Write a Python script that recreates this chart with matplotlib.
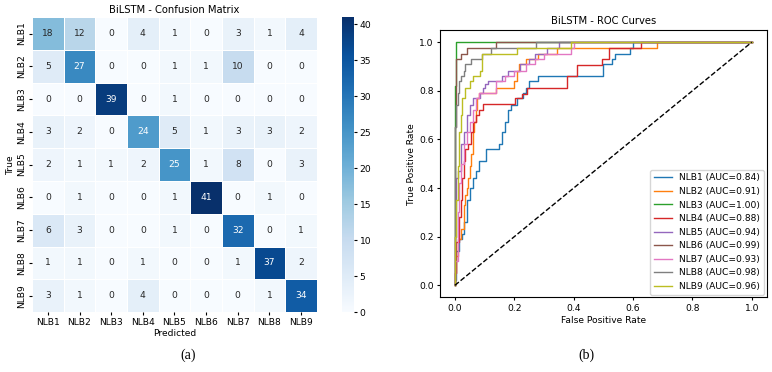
import matplotlib
matplotlib.use("Agg")
import matplotlib.pyplot as plt
import numpy as np
import seaborn as sns

classes = ["NLB1", "NLB2", "NLB3", "NLB4", "NLB5", "NLB6", "NLB7", "NLB8", "NLB9"]

conf = np.array([
    [18, 12, 0, 4, 1, 0, 3, 1, 4],
    [5, 27, 0, 0, 1, 1, 10, 0, 0],
    [0, 0, 39, 0, 1, 0, 0, 0, 0],
    [3, 2, 0, 24, 5, 1, 3, 3, 2],
    [2, 1, 1, 2, 25, 1, 8, 0, 3],
    [0, 1, 0, 0, 1, 41, 0, 1, 0],
    [6, 3, 0, 0, 1, 0, 32, 0, 1],
    [1, 1, 0, 1, 0, 0, 1, 37, 2],
    [3, 1, 0, 4, 0, 0, 0, 1, 34],
])

auc = [0.84, 0.91, 1.00, 0.88, 0.94, 0.99, 0.93, 0.98, 0.96]

# roc points (fpr, tpr)
roc_nlb1 = [(0, 0), (0, 0.02), (0.005, 0.02), (0.005, 0.14), (0.015, 0.14), (0.015, 0.19),
            (0.025, 0.19), (0.025, 0.21), (0.03, 0.21), (0.03, 0.26), (0.04, 0.26), (0.04, 0.35),
            (0.05, 0.35), (0.05, 0.40), (0.06, 0.40), (0.06, 0.44), (0.07, 0.44), (0.07, 0.47),
            (0.08, 0.47), (0.08, 0.51), (0.105, 0.51), (0.105, 0.56), (0.15, 0.56), (0.15, 0.58),
            (0.16, 0.58), (0.16, 0.63), (0.17, 0.63), (0.17, 0.67), (0.18, 0.67), (0.18, 0.72),
            (0.19, 0.72), (0.19, 0.74), (0.21, 0.74), (0.21, 0.77), (0.23, 0.77), (0.23, 0.79),
            (0.24, 0.79), (0.24, 0.81), (0.25, 0.81), (0.25, 0.84), (0.28, 0.84), (0.28, 0.86),
            (0.50, 0.86), (0.50, 0.91), (0.53, 0.91), (0.53, 0.93), (0.54, 0.93), (0.54, 0.95),
            (0.59, 0.95), (0.59, 0.975), (0.60, 0.975), (0.60, 1.0), (1, 1)]
roc_nlb2 = [(0, 0), (0, 0.05), (0.005, 0.05), (0.005, 0.12), (0.01, 0.12), (0.01, 0.19),
            (0.02, 0.19), (0.02, 0.23), (0.03, 0.23), (0.03, 0.33), (0.035, 0.33), (0.035, 0.37),
            (0.04, 0.37), (0.04, 0.40), (0.045, 0.40), (0.045, 0.44), (0.05, 0.44), (0.05, 0.49),
            (0.055, 0.49), (0.055, 0.54), (0.06, 0.54), (0.06, 0.63), (0.065, 0.63), (0.065, 0.67),
            (0.07, 0.67), (0.07, 0.72), (0.075, 0.72), (0.075, 0.77), (0.08, 0.77), (0.08, 0.79),
            (0.14, 0.79), (0.14, 0.81), (0.20, 0.81), (0.20, 0.84), (0.21, 0.84), (0.21, 0.88),
            (0.215, 0.88), (0.215, 0.91), (0.24, 0.91), (0.24, 0.93), (0.28, 0.93), (0.28, 0.95),
            (0.345, 0.95), (0.345, 0.975), (0.68, 0.975), (0.68, 1.0), (1, 1)]
roc_nlb3 = [(0, 0), (0, 0.82), (0.003, 0.82), (0.003, 0.95), (0.005, 0.95), (0.005, 1.0), (1, 1)]
roc_nlb4 = [(0, 0), (0, 0.05), (0.005, 0.05), (0.005, 0.18), (0.015, 0.18), (0.015, 0.28),
            (0.02, 0.28), (0.02, 0.35), (0.025, 0.35), (0.025, 0.44), (0.03, 0.44), (0.03, 0.51),
            (0.035, 0.51), (0.035, 0.56), (0.045, 0.56), (0.045, 0.58), (0.055, 0.58), (0.055, 0.63),
            (0.06, 0.63), (0.06, 0.67), (0.07, 0.67), (0.07, 0.70), (0.08, 0.70), (0.08, 0.72),
            (0.095, 0.72), (0.095, 0.745), (0.203, 0.745), (0.203, 0.77), (0.225, 0.77),
            (0.225, 0.786), (0.244, 0.786), (0.244, 0.81), (0.377, 0.81), (0.377, 0.86),
            (0.413, 0.86), (0.413, 0.907), (0.495, 0.907), (0.495, 0.93), (0.518, 0.93),
            (0.518, 0.975), (0.627, 0.975), (0.627, 1.0), (1, 1)]
roc_nlb5 = [(0, 0), (0, 0.2), (0.005, 0.2), (0.005, 0.44), (0.01, 0.44), (0.01, 0.47),
            (0.02, 0.47), (0.02, 0.58), (0.03, 0.58), (0.03, 0.63), (0.04, 0.63), (0.04, 0.70),
            (0.05, 0.70), (0.05, 0.74), (0.06, 0.74), (0.06, 0.77), (0.085, 0.77), (0.085, 0.79),
            (0.095, 0.79), (0.095, 0.81), (0.10, 0.81), (0.10, 0.83), (0.11, 0.83), (0.11, 0.84),
            (0.16, 0.84), (0.16, 0.86), (0.18, 0.86), (0.18, 0.88), (0.22, 0.88), (0.22, 0.91),
            (0.25, 0.91), (0.25, 0.93), (0.27, 0.93), (0.27, 0.95), (0.31, 0.95), (0.31, 0.975),
            (0.35, 0.975), (0.35, 1.0), (1, 1)]
roc_nlb6 = [(0, 0), (0, 0.65), (0.003, 0.65), (0.003, 0.82), (0.005, 0.82), (0.005, 0.93),
            (0.022, 0.93), (0.022, 0.95), (0.042, 0.95), (0.042, 0.975), (0.14, 0.975),
            (0.14, 1.0), (1, 1)]
roc_nlb7 = [(0, 0), (0, 0.1), (0.01, 0.1), (0.01, 0.3), (0.015, 0.3), (0.015, 0.42),
            (0.02, 0.42), (0.02, 0.5), (0.03, 0.5), (0.03, 0.58), (0.04, 0.58), (0.04, 0.63),
            (0.05, 0.63), (0.05, 0.67), (0.06, 0.67), (0.06, 0.72), (0.07, 0.72), (0.07, 0.77),
            (0.08, 0.77), (0.08, 0.79), (0.14, 0.79), (0.14, 0.84), (0.17, 0.84), (0.17, 0.86),
            (0.20, 0.86), (0.20, 0.88), (0.24, 0.88), (0.24, 0.91), (0.27, 0.91), (0.27, 0.93),
            (0.30, 0.93), (0.30, 0.95), (0.39, 0.95), (0.39, 0.975), (0.40, 0.975), (0.40, 1.0),
            (1, 1)]
roc_nlb8 = [(0, 0), (0, 0.65), (0.005, 0.65), (0.005, 0.74), (0.01, 0.74), (0.01, 0.79),
            (0.015, 0.79), (0.015, 0.84), (0.02, 0.84), (0.02, 0.86), (0.03, 0.86), (0.03, 0.88),
            (0.035, 0.88), (0.035, 0.91), (0.055, 0.91), (0.055, 0.93), (0.09, 0.93), (0.09, 0.95),
            (0.12, 0.95), (0.12, 0.975), (0.274, 0.975), (0.274, 1.0), (1, 1)]
roc_nlb9 = [(0, 0), (0, 0.2), (0.005, 0.2), (0.005, 0.35), (0.01, 0.35), (0.01, 0.49),
            (0.015, 0.49), (0.015, 0.63), (0.02, 0.63), (0.02, 0.70), (0.025, 0.70), (0.025, 0.77),
            (0.035, 0.77), (0.035, 0.81), (0.05, 0.81), (0.05, 0.84), (0.06, 0.84), (0.06, 0.86),
            (0.085, 0.86), (0.085, 0.88), (0.09, 0.88), (0.09, 0.95), (0.21, 0.95), (0.21, 0.975),
            (0.39, 0.975), (0.39, 1.0), (1, 1)]

rocs = [roc_nlb1, roc_nlb2, roc_nlb3, roc_nlb4, roc_nlb5, roc_nlb6, roc_nlb7, roc_nlb8, roc_nlb9]

fs = 6.6
fig = plt.figure(figsize=(7.72, 3.72), dpi=100)

#%% confusion matrix
ax1 = fig.add_axes([0.0415, 0.161, 0.369, 0.793])
cax = fig.add_axes([0.443, 0.161, 0.0155, 0.793])
sns.heatmap(conf, annot=True, fmt="d", cmap="Blues", ax=ax1, cbar_ax=cax,
            xticklabels=classes, yticklabels=classes, linewidths=0.5, linecolor="white",
            annot_kws={"fontsize": fs})
ax1.set_title("BiLSTM - Confusion Matrix", fontsize=7.2, pad=3)
ax1.set_xlabel("Predicted", fontsize=fs, labelpad=2)
ax1.set_ylabel("True", fontsize=fs, labelpad=2)
ax1.tick_params(labelsize=fs, length=2, pad=2)
plt.setp(ax1.get_xticklabels(), rotation=0)
plt.setp(ax1.get_yticklabels(), rotation=90, va="center")
cax.tick_params(labelsize=fs, length=2, pad=2)
cax.set_yticks([0, 5, 10, 15, 20, 25, 30, 35, 40])

#%% roc curves
ax2 = fig.add_axes([0.570, 0.2003, 0.423, 0.719])
for name, pts, a in zip(classes, rocs, auc):
    pts = np.array(pts)
    ax2.plot(pts[:, 0], pts[:, 1], lw=1.0, label=f"{name} (AUC={a:.2f})")
ax2.plot([0, 1], [0, 1], "k--", lw=1.0)
ax2.set_title("BiLSTM - ROC Curves", fontsize=7.2, pad=4)
ax2.set_xlabel("False Positive Rate", fontsize=fs, labelpad=2)
ax2.set_ylabel("True Positive Rate", fontsize=fs, labelpad=2)
ax2.tick_params(labelsize=fs, length=2.5, pad=2)
ax2.set_xlim(-0.05, 1.05)
ax2.set_ylim(-0.05, 1.05)
ax2.legend(loc="lower right", fontsize=fs, handlelength=2.0, borderaxespad=0.3)

fig.text(0.2435, 0.045, "(a)", ha="center", va="center", fontsize=10, family="Liberation Serif")
fig.text(0.760, 0.045, "(b)", ha="center", va="center", fontsize=10, family="Liberation Serif")

fig.savefig("out.png", dpi=100)
